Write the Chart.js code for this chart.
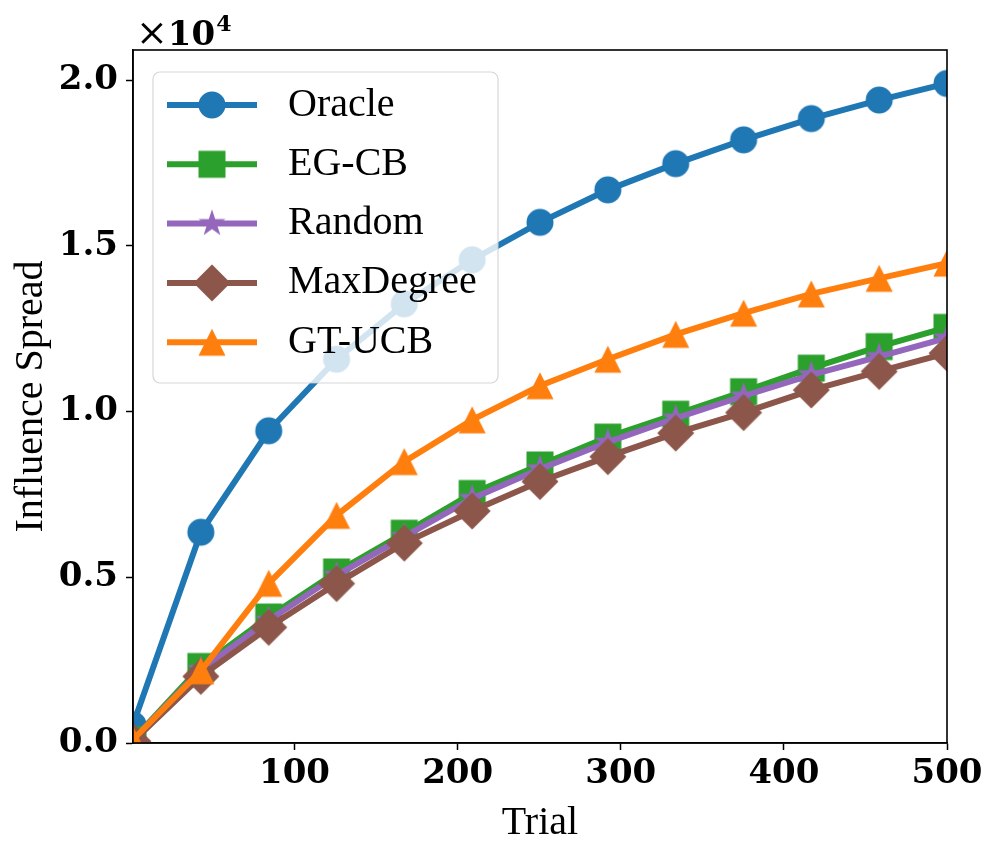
<!DOCTYPE html>
<html>
<head>
<meta charset="utf-8">
<script src="https://cdn.jsdelivr.net/npm/chart.js@4.4.1/dist/chart.umd.min.js"></script>
<style>
  html, body { margin: 0; padding: 0; background: #fff; }
</style>
</head>
<body>
<canvas id="myChart" width="997" height="860"></canvas>
<script>
// trial numbers where the curves were sampled
var trials = [1, 42.6, 84.2, 125.8, 167.3, 208.9, 250.5, 292.1, 333.7, 375.3, 416.8, 458.4, 500];

// influence spread for each method (raw values, axis shows x1e4)
var oracle = [550, 6360, 9420, 11580, 13250, 14580, 15710, 16690, 17480, 18200, 18840, 19400, 19900];
var egcb = [100, 2310, 3800, 5160, 6330, 7530, 8390, 9230, 9920, 10600, 11310, 11960, 12540];
var random = [100, 2220, 3700, 5060, 6230, 7380, 8270, 9080, 9800, 10470, 11110, 11660, 12220];
var maxDegree = [50, 2010, 3490, 4810, 6030, 7000, 7890, 8640, 9350, 9970, 10650, 11210, 11760];
var gtucb = [100, 2180, 4820, 6870, 8490, 9750, 10780, 11580, 12330, 12970, 13550, 14020, 14480];

var seriesNames = ["Oracle", "EG-CB", "Random", "MaxDegree", "GT-UCB"];
var seriesValues = [oracle, egcb, random, maxDegree, gtucb];
var seriesColors = ["#1f77b4", "#2ca02c", "#9467bd", "#8c564b", "#ff7f0e"];
var seriesShapes = ["circle", "square", "star", "diamond", "triangle"];

var xTicks = [100, 200, 300, 400, 500];
var yTicks = [0, 5000, 10000, 15000, 20000];

// matplotlib-like markers drawn on little canvases
function makeMarker(shape, color) {
  var size = shape === "diamond" ? 40 : 32;
  var c = document.createElement("canvas");
  c.width = size;
  c.height = size;
  var g = c.getContext("2d");
  var m = size / 2;
  g.fillStyle = color;
  g.beginPath();
  if (shape === "circle") {
    g.arc(m, m, 13.5, 0, Math.PI * 2);
  } else if (shape === "square") {
    g.rect(m - 13.5, m - 13.5, 27, 27);
  } else if (shape === "diamond") {
    g.moveTo(m, m - 18.5);
    g.lineTo(m + 18.5, m);
    g.lineTo(m, m + 18.5);
    g.lineTo(m - 18.5, m);
  } else if (shape === "triangle") {
    g.moveTo(m, m - 13.5);
    g.lineTo(m + 13.5, m + 13.5);
    g.lineTo(m - 13.5, m + 13.5);
  } else if (shape === "star") {
    for (var i = 0; i < 10; i++) {
      var r = i % 2 ? 5.5 : 14.3;
      var a = -Math.PI / 2 + (i * Math.PI) / 5;
      var px = m + r * Math.cos(a);
      var py = m + r * Math.sin(a);
      if (i === 0) g.moveTo(px, py);
      else g.lineTo(px, py);
    }
  }
  g.closePath();
  g.fill();
  return c;
}

var markers = seriesShapes.map(function (s, i) {
  return makeMarker(s, seriesColors[i]);
});

var datasets = seriesNames.map(function (name, i) {
  return {
    label: name,
    data: trials.map(function (t, j) {
      return { x: t, y: seriesValues[i][j] };
    }),
    borderColor: seriesColors[i],
    backgroundColor: seriesColors[i],
    borderWidth: 6,
    pointStyle: markers[i],
    pointRadius: 14,
    tension: 0,
    clip: 0,
    order: seriesNames.length - i,
  };
});

var tickFont = { family: "DejaVu Serif", weight: "bold", size: 34 };

var decorPlugin = {
  id: "decor",
  afterDatasetsDraw: function (chart) {
    var ctx = chart.ctx;
    var a = chart.chartArea;
    ctx.save();
    // frame
    ctx.strokeStyle = "#000";
    ctx.lineWidth = 1.6;
    ctx.strokeRect(a.left, a.top, a.right - a.left, a.bottom - a.top);

    // axis titles
    ctx.fillStyle = "#000";
    ctx.font = "40px 'Liberation Serif'";
    ctx.textAlign = "center";
    ctx.textBaseline = "alphabetic";
    ctx.fillText("Trial", (a.left + a.right) / 2, 834);
    ctx.save();
    ctx.translate(42, (a.top + a.bottom) / 2);
    ctx.rotate(-Math.PI / 2);
    ctx.fillText("Influence Spread", 0, 0);
    ctx.restore();

    // offset text
    ctx.textAlign = "left";
    ctx.font = "38px 'DejaVu Serif'";
    ctx.fillText("\u00d7", 136, 45);
    var w1 = ctx.measureText("\u00d7").width;
    ctx.font = "bold 34px 'DejaVu Serif'";
    ctx.fillText("10", 136 + w1, 45);
    var w2 = ctx.measureText("10").width;
    ctx.font = "bold 22px 'DejaVu Serif'";
    ctx.fillText("4", 136 + w1 + w2 + 1, 31);

    // legend
    var bx = 153, by = 72, bw = 345, bh = 311, br = 7;
    ctx.beginPath();
    ctx.moveTo(bx + br, by);
    ctx.arcTo(bx + bw, by, bx + bw, by + bh, br);
    ctx.arcTo(bx + bw, by + bh, bx, by + bh, br);
    ctx.arcTo(bx, by + bh, bx, by, br);
    ctx.arcTo(bx, by, bx + bw, by, br);
    ctx.closePath();
    ctx.fillStyle = "rgba(255,255,255,0.8)";
    ctx.fill();
    ctx.strokeStyle = "rgba(204,204,204,0.8)";
    ctx.lineWidth = 1.2;
    ctx.stroke();

    ctx.font = "40px 'Liberation Serif'";
    ctx.textBaseline = "middle";
    for (var i = 0; i < seriesNames.length; i++) {
      var y = 105 + i * 59.3;
      ctx.strokeStyle = seriesColors[i];
      ctx.lineWidth = 6;
      ctx.beginPath();
      ctx.moveTo(167, y);
      ctx.lineTo(257, y);
      ctx.stroke();
      var mk = markers[i];
      ctx.drawImage(mk, 212 - mk.width / 2, y - mk.height / 2);
      ctx.fillStyle = "#000";
      ctx.fillText(seriesNames[i], 288, y);
    }
    ctx.restore();
  },
};

var ctx = document.getElementById("myChart").getContext("2d");
var myChart = new Chart(ctx, {
  type: "line",
  data: { datasets: datasets },
  options: {
    responsive: false,
    animation: false,
    events: [],
    layout: { padding: { left: 0, right: 50, top: 50, bottom: 0 } },
    plugins: {
      legend: { display: false },
      tooltip: { enabled: false },
    },
    scales: {
      x: {
        type: "linear",
        min: 1,
        max: 500,
        afterBuildTicks: function (scale) {
          scale.ticks = xTicks.map(function (v) {
            return { value: v };
          });
        },
        afterFit: function (scale) {
          scale.height = 117;
        },
        grid: {
          drawOnChartArea: false,
          drawTicks: true,
          tickLength: 7,
          tickWidth: 1.5,
          tickColor: "#000",
        },
        border: { display: true, color: "#000", width: 1.6 },
        ticks: {
          color: "#000",
          font: tickFont,
          padding: 4,
          maxRotation: 0,
          autoSkip: false,
        },
      },
      y: {
        type: "linear",
        min: 0,
        max: 20910,
        afterBuildTicks: function (scale) {
          scale.ticks = yTicks.map(function (v) {
            return { value: v };
          });
        },
        afterFit: function (scale) {
          scale.width = 133;
        },
        grid: {
          drawOnChartArea: false,
          drawTicks: true,
          tickLength: 7,
          tickWidth: 1.5,
          tickColor: "#000",
        },
        border: { display: true, color: "#000", width: 1.6 },
        ticks: {
          color: "#000",
          font: tickFont,
          padding: 8,
          autoSkip: false,
          callback: function (value) {
            return (value / 10000).toFixed(1);
          },
        },
      },
    },
  },
  plugins: [decorPlugin],
});
</script>
</body>
</html>
